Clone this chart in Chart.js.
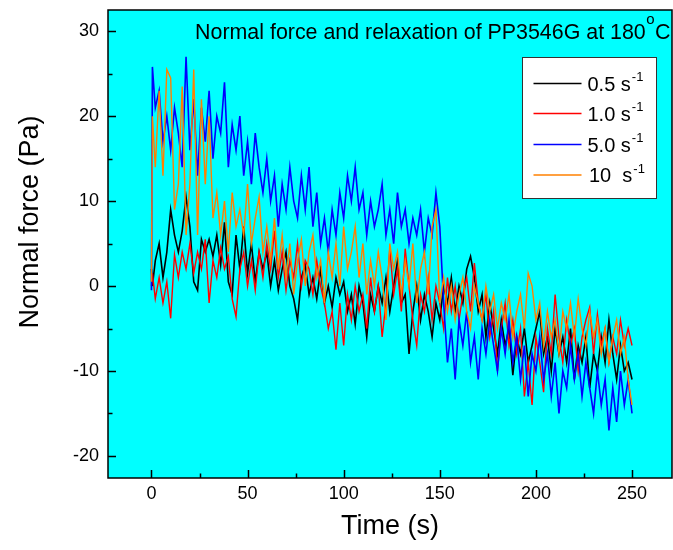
<!DOCTYPE html>
<html lang="en">
<head>
<meta charset="UTF-8">
<title>Normal force and relaxation of PP3546G</title>
<script src="https://cdn.jsdelivr.net/npm/chart.js"></script>
<style>
    html, body { margin: 0; padding: 0; background: #fff; }
    canvas { display: block; }
</style>
</head>
<body>
<canvas id="forceChart" width="673" height="550"></canvas>
<script>
// time axis (s)
const times = [
    0, 0.5, 2, 4, 6, 8, 10, 12, 14, 16,
    18, 20, 22, 24, 26, 28, 30, 32, 34, 36,
    38, 40, 42, 44, 46, 48, 50, 52, 54, 56,
    58, 60, 62, 64, 66, 68, 70, 72, 74, 76,
    78, 80, 82, 84, 86, 88, 90, 92, 94, 96,
    98, 100, 102, 104, 106, 108, 110, 112, 114, 116,
    118, 120, 122, 124, 126, 128, 130, 132, 134, 136,
    138, 140, 142, 144, 146, 148, 150, 152, 154, 156,
    158, 160, 162, 164, 166, 168, 170, 172, 174, 176,
    178, 180, 182, 184, 186, 188, 190, 192, 194, 196,
    198, 200, 202, 204, 206, 208, 210, 212, 214, 216,
    218, 220, 222, 224, 226, 228, 230, 232, 234, 236,
    238, 240, 242, 244, 246, 248, 250
];

// normal force (Pa), one value per time above
const rate05 = [
    2, 0, 3, 5, 1, 4, 9, 6, 4, 6.5,
    10.5, 7, 0.5, -0.5, 5.5, 4, 5.5, 3.5, 6, 2.5,
    7.5, 0.5, -1, 6, 2, 7, 1.5, 5, 0.5, 4,
    2, 4, 0, 3, -0.5, 2, 4, 0, -1.5, -4,
    1, 2.5, -1, 1, -1.5, 2, -2, 0, -2.5, 1,
    -1, 0.5, -3, -1, -4.5, 0, -2, -6, -1, -3,
    0, -2, 1, -3, 0, 3, -2, -1, -8, -3,
    0, -4, -1, -3, -6, -2, -4, 0, -2, 1,
    -3, 0, -2, 2, 3.5, 1, -3, -1, -6, -2,
    -5, -8, -4, -7, -5, -10.5, -6, -8, -5, -9,
    -7, -5, -3, -8, -6, -10, -5, -8, -6, -9,
    -5, -11, -7, -9, -6, -12, -8, -10, -6, -9,
    -4, -8, -11, -7, -10, -9, -11
];

const rate1 = [
    0, 1.5, -1.5, 1, -2, 0.5, -3.8, 3.7, 1, 4,
    2, 5, 1.5, 4, 2, 5.5, -2, 3, 1, 4.5,
    2, 3.5, -1.5, -3.6, 2, 4, 0, 3, -0.5, 4,
    1, 5, 2, 6.5, 1, 4, -0.5, 3, 1, 5,
    0, 3, 2, -1, 3, 0, -2, -5, -3, -7.5,
    -2, -7, -1, -4, 0, -3, -1, -5, 1, -3,
    0, -6, -2, 4.4, -1, 2, -3, 4.4, 0, -4,
    -7, -1, -3, 1, -4, 0, -2, -5, 1, -3,
    0, -4, -1, 1, -3, 2.7, -2, -4, -1, -6,
    -3, -10, -5, -2, -7, -4, -8, -5, -13, -9,
    -14, -6, -9, -12.5, -5, -8, -1, -6, -9, -4,
    -7, -5, -10, -6, -4, -2.5, -8, -3.3, -7, -5,
    -9, -6, -8, -4, -7, -5, -7
];

const rate5 = [
    -0.5, 25.8, 21, 23, 17, 20, 16, 21, 18, 14,
    27, 16, 22, 13, 21, 17, 23, 15, 20, 18,
    24, 14, 19, 16, 20, 13, 17, 12, 18, 14,
    11, 15, 10, 13, 7, 12, 9, 14, 10, 8,
    13, 9, 14, 7, 11, 5, 8, 4, 9, 6,
    11, 8, 13, 10, 14, 9, 11, 6, 10, 7,
    9, 12, 6, 9, 5, 11, 7, 9, 5, 8,
    6, 9, 4, 8, 6, 11, 7, -2, -9, -5,
    -11, -4, -7, -3, -9, -6, -11, -5, -8, -4,
    -7, -10, -5, -8, -4, -9, -6, -11, -7, -13,
    -8, -10, -6, -11, -8, -13, -9, -15, -10, -12,
    -7, -11, -8, -13, -9, -12, -15, -10, -14, -11,
    -17, -12, -16, -10, -14, -11, -15
];

const rate10 = [
    0.5, 20, 14, 23, 13, 25.5, 24.5, 9, 12, 23.5,
    6, 12, 25.5, 6, 22, 12, 20, 8, 11, 6,
    10, 4, 11, 7, 9, 6, 12, 5, 8, 10.5,
    4, 7, 3, 8, 2, 6, 1, 5, -1, 3,
    5.5, 0, 4, 6, 1, 3, -2, 4, 1, 5,
    0, 7, 2, 4, 7, 1, 5, -1, 3, 0,
    4, 1, -4, 5, 2, 4, -1, 3, 0, 5,
    -2, 2, 4, -1, 7, 9, -2, 1, -3, 0,
    -4, -1, 1, -3, -5, 0, -2, -4, 0, -3,
    -1, -5, -2, -4, -1, -6, -3, -1, -5, 1.5,
    0, -4, -2, -7, -3, -6, -4, -8, -3, -5,
    -2, -6, -1.5, -5, -7, -3, -6, -4, -8, -5,
    -9, -6, -4, -8, -6, -11, -14
];

const xTicks = [0, 50, 100, 150, 200, 250];
const xMinorTicks = [25, 75, 125, 175, 225];
const yTicks = [-20, -10, 0, 10, 20, 30];
const yMinorTicks = [-15, -5, 5, 15, 25];

const legendLabels = ['0.5 s', '1.0 s', '5.0 s', '10  s'];
const chartTitle = 'Normal force and relaxation of PP3546G at 180';

const FONT = '"Liberation Sans", Arial, sans-serif';

function points(ys) {
    return times.map((t, i) => ({ x: t, y: ys[i] }));
}

// cyan plot area, inward ticks, frame, title, legend and axis titles
const originLook = {
    id: 'originLook',
    beforeDatasetsDraw(chart) {
        const { ctx, chartArea: a } = chart;
        ctx.save();
        ctx.fillStyle = '#00FFFF';
        ctx.fillRect(a.left, a.top, a.right - a.left, a.bottom - a.top);
        ctx.restore();
    },
    afterDraw(chart) {
        const { ctx, chartArea: a } = chart;
        const xs = chart.scales.x, ys = chart.scales.y;
        ctx.save();

        // tick marks
        ctx.strokeStyle = '#000';
        ctx.lineWidth = 1.5;
        ctx.beginPath();
        xTicks.forEach(v => {
            const px = Math.round(xs.getPixelForValue(v)) + 0.5;
            ctx.moveTo(px, a.bottom); ctx.lineTo(px, a.bottom - 8);
        });
        xMinorTicks.forEach(v => {
            const px = Math.round(xs.getPixelForValue(v)) + 0.5;
            ctx.moveTo(px, a.bottom); ctx.lineTo(px, a.bottom - 4.5);
        });
        yTicks.forEach(v => {
            const py = Math.round(ys.getPixelForValue(v)) + 0.5;
            ctx.moveTo(a.left, py); ctx.lineTo(a.left + 8, py);
        });
        yMinorTicks.forEach(v => {
            const py = Math.round(ys.getPixelForValue(v)) + 0.5;
            ctx.moveTo(a.left, py); ctx.lineTo(a.left + 4.5, py);
        });
        ctx.stroke();
        ctx.strokeRect(a.left, a.top, a.right - a.left, a.bottom - a.top);

        // title inside the plot, with superscript o
        const tf = '21.4px ' + FONT, sf = '15px ' + FONT;
        ctx.fillStyle = '#000';
        ctx.textBaseline = 'alphabetic';
        ctx.textAlign = 'left';
        ctx.font = tf;
        const mainW = ctx.measureText(chartTitle).width;
        const cW = ctx.measureText('C').width;
        ctx.font = sf;
        const oW = ctx.measureText('o').width;
        let tx = a.right - 1.5 - (mainW + oW + 1 + cW);
        const ty = 38.5;
        ctx.font = tf;
        ctx.fillText(chartTitle, tx, ty);
        tx += mainW;
        ctx.font = sf;
        ctx.fillText('o', tx + 0.5, ty - 15);
        tx += oW + 1;
        ctx.font = tf;
        ctx.fillText('C', tx, ty);

        // legend box
        const boxL = a.right - 150, boxT = a.top + 47, boxW = 134, boxH = 141;
        ctx.fillStyle = '#fff';
        ctx.fillRect(boxL, boxT, boxW, boxH);
        ctx.strokeStyle = '#333';
        ctx.lineWidth = 1;
        ctx.strokeRect(boxL + 0.5, boxT + 0.5, boxW, boxH);
        const rowY = [26.5, 56.5, 87.5, 118];
        const order = [3, 2, 1, 0];
        order.forEach((di, r) => {
            const ds = chart.data.datasets[di];
            const ly = boxT + rowY[r];
            ctx.strokeStyle = ds.borderColor;
            ctx.lineWidth = ds.borderWidth;
            ctx.beginPath();
            ctx.moveTo(boxL + 11.5, ly); ctx.lineTo(boxL + 59.5, ly);
            ctx.stroke();
            ctx.fillStyle = '#000';
            ctx.font = '20px ' + FONT;
            const lx = boxL + 65.5 + (r === 3 ? 1.5 : 0);
            ctx.fillText(legendLabels[r], lx, ly + 7);
            const w = ctx.measureText(legendLabels[r]).width;
            ctx.font = '13px ' + FONT;
            ctx.fillText('-1', lx + w + 1, ly - 2.5);
        });

        // axis titles
        ctx.fillStyle = '#000';
        ctx.font = '27px ' + FONT;
        ctx.textAlign = 'center';
        ctx.textBaseline = 'middle';
        ctx.fillText('Time (s)', (a.left + a.right) / 2, 527);
        ctx.translate(31, 222);
        ctx.rotate(-Math.PI / 2);
        ctx.fillText('Normal force (Pa)', 0, 0);
        ctx.restore();
    }
};

const ctx = document.getElementById('forceChart').getContext('2d');

new Chart(ctx, {
    type: 'line',
    data: {
        datasets: [
            { label: '10 s-1', data: points(rate10), borderColor: '#FF8000', borderWidth: 1.4 },
            { label: '5.0 s-1', data: points(rate5), borderColor: '#0000FF', borderWidth: 1.6 },
            { label: '1.0 s-1', data: points(rate1), borderColor: '#FF0000', borderWidth: 1.4 },
            { label: '0.5 s-1', data: points(rate05), borderColor: '#000000', borderWidth: 1.6 }
        ]
    },
    options: {
        responsive: false,
        animation: false,
        devicePixelRatio: 1,
        parsing: false,
        elements: {
            point: { radius: 0, hoverRadius: 0 },
            line: { tension: 0, fill: false }
        },
        layout: { padding: { left: 0, right: 1, top: 10, bottom: 0 } },
        plugins: {
            legend: { display: false },
            title: { display: false },
            tooltip: { enabled: false }
        },
        scales: {
            x: {
                type: 'linear',
                min: -22.6,
                max: 270.8,
                afterBuildTicks: s => { s.ticks = xTicks.map(v => ({ value: v })); },
                afterFit: s => { s.height = 72; s.paddingLeft = 0; s.paddingRight = 0; },
                grid: { display: false, drawTicks: false },
                border: { display: false },
                ticks: {
                    color: '#000',
                    padding: 5,
                    maxRotation: 0,
                    autoSkip: false,
                    font: { family: FONT, size: 18 }
                }
            },
            y: {
                type: 'linear',
                min: -22.6,
                max: 32.5,
                afterBuildTicks: s => { s.ticks = yTicks.map(v => ({ value: v })); },
                afterFit: s => { s.width = 108; s.paddingTop = 0; s.paddingBottom = 0; },
                grid: { display: false, drawTicks: false },
                border: { display: false },
                ticks: {
                    color: '#000',
                    padding: 9,
                    autoSkip: false,
                    font: { family: FONT, size: 18 }
                }
            }
        }
    },
    plugins: [originLook]
});
</script>
</body>
</html>
